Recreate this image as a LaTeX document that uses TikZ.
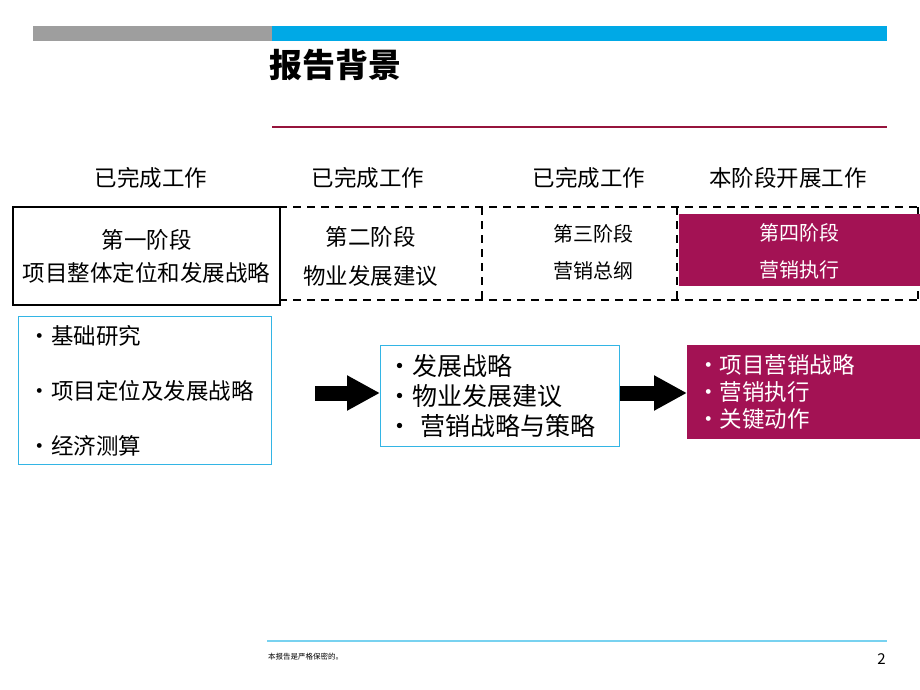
\documentclass[tikz,border=0pt]{standalone}
\usepackage{fontspec}
\setmainfont{Noto Sans CJK SC}
\usetikzlibrary{arrows.meta}

\definecolor{barblue}{RGB}{0,169,230}
\definecolor{bargray}{RGB}{158,158,158}
\definecolor{rosered}{RGB}{163,18,84}
\definecolor{linered}{RGB}{150,20,60}
\definecolor{frameblue}{RGB}{51,181,229}
\definecolor{footblue}{RGB}{120,210,240}

\tikzset{
  fs/.style={font=\fontsize{#1}{#1}\selectfont},
  dashline/.style={line width=2pt, dash pattern=on 8pt off 6pt},
  stagebox/.style={anchor=north west, inner sep=0pt, align=center},
  listbox/.style={anchor=north west, inner ysep=0pt, align=left},
  fatarrow/.style={line width=15pt, -{Triangle[length=33pt,width=33pt]}},
}

\begin{document}
\begin{tikzpicture}[x=1pt, y=-1pt]
\useasboundingbox (0,0) rectangle (920,690);

% header
\fill[bargray] (33,26) rectangle (272,41);
\fill[barblue] (272,26) rectangle (887,41);
\node[anchor=west, font=\fontsize{33}{33}\selectfont\bfseries] (title) at (266,65) {报告背景};
\draw[linered, line width=1.2pt] (272,127) -- (887,127);

% column heads
\node[fs=22.5] (h1) at (151,178) {已完成工作};
\node[fs=22.5] (h2) at (368,178) {已完成工作};
\node[fs=22.5] (h3) at (589,178) {已完成工作};
\node[fs=22.5] (h4) at (788,178) {本阶段开展工作};

% stages
\node[stagebox, minimum width=203pt, minimum height=93pt] (s2) at (279,207) {};
\node[stagebox, minimum width=195pt, minimum height=93pt] (s3) at (482,207) {};
\node[stagebox, minimum width=241pt, minimum height=93pt] (s4) at (677,207) {};
\draw[dashline] (s2.north west) -- (s4.north east);
\draw[dashline] (s2.south west) -- (s4.south east);
\draw[dashline] (s3.north west) -- (s3.south west);
\draw[dashline] (s4.north west) -- (s4.south west);
\draw[dashline] (s4.north east) -- (s4.south east);
\node[align=center, font=\fontsize{22.5}{39}\selectfont] (t2) at ([shift={(-10,3)}]s2.center) {第二阶段\\物业发展建议};
\node[align=center, font=\fontsize{20}{37}\selectfont] (t3) at ([shift={(14,-1)}]s3.center) {第三阶段\\营销总纲};
\node[stagebox, fill=rosered, text=white, minimum width=241pt, minimum height=72pt, text depth=-2pt, font=\fontsize{20}{37}\selectfont] (p4) at (679,214) {第四阶段\\营销执行};
\node[stagebox, draw, line width=2pt, fill=white, minimum width=267pt, minimum height=98pt, font=\fontsize{22.5}{33}\selectfont] (s1) at (12,206) {第一阶段\\项目整体定位和发展战略};

% results
\node[listbox, draw=frameblue, line width=1pt, inner xsep=10pt, text width=233pt, minimum height=148pt, font=\fontsize{22.5}{55}\selectfont] (l1) at (18,316) {・基础研究\\・项目定位及发展战略\\・经济测算};
\node[listbox, draw=frameblue, line width=1pt, inner xsep=7pt, text width=225pt, minimum height=101pt, font=\fontsize{25}{30}\selectfont] (l2) at (380,345) {・发展战略\\・物业发展建议\\・ 营销战略与策略};
\node[listbox, fill=rosered, text=white, inner xsep=10pt, text width=213pt, minimum height=94pt, font=\fontsize{22.5}{27}\selectfont] (l3) at (687,345) {・项目营销战略\\・营销执行\\・关键动作};

\coordinate (a1) at (315,393);
\coordinate (a2) at (620,393);
\draw[fatarrow] (a1) -- (a1 -| l2.west);
\draw[fatarrow] (a2) -- (a2 -| l3.west);

% footer
\draw[footblue, line width=2pt] (267,641) -- (887,641);
\node[anchor=west, inner sep=0pt, fs=7.5] (note) at (268,657) {本报告是严格保密的。};
\node[anchor=east, inner sep=0pt, fs=15] (page) at (886,659) {2};
\end{tikzpicture}
\end{document}
